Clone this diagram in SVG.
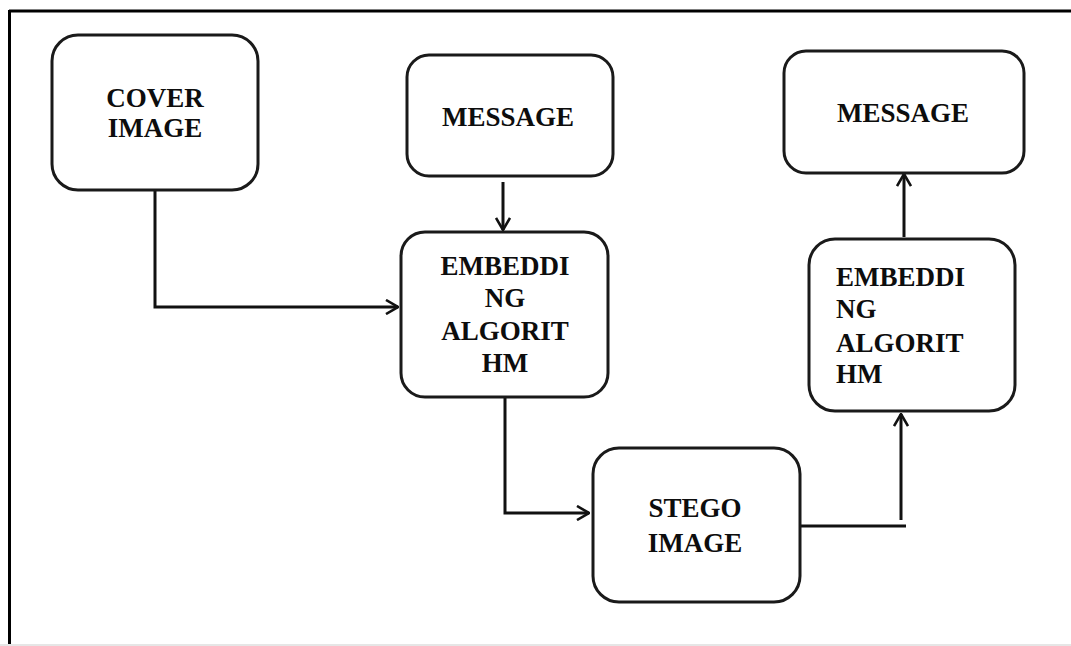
<svg xmlns="http://www.w3.org/2000/svg" width="1071" height="646" viewBox="0 0 1071 646">
  <defs>
    <style>
      .box { fill: #ffffff; stroke: #1a1a1a; stroke-width: 3; }
      .lbl { font-weight: bold; font-size: 27px; fill: #0d0d0d; }
      .mid { text-anchor: middle; }
      .wire { fill: none; stroke: #111111; stroke-width: 3; }
    </style>
    <marker id="arrow" viewBox="0 0 14 16" refX="13" refY="8" markerWidth="14" markerHeight="16" markerUnits="userSpaceOnUse" orient="auto">
      <path d="M1,1 L13,8 L1,15" fill="none" stroke="#111111" stroke-width="2.6"/>
    </marker>
  </defs>

  <rect width="1071" height="646" fill="#ffffff"/>
  <!-- page frame -->
  <line x1="9" y1="11" x2="1071" y2="11" stroke="#000" stroke-width="3"/>
  <line x1="9.5" y1="10" x2="9.5" y2="646" stroke="#000" stroke-width="3"/>
  <line x1="0" y1="645" x2="1071" y2="645" stroke="#e6e6e6" stroke-width="2"/>

  <g id="connectors">
    <polyline class="wire" points="155,190 155,307 398,307" marker-end="url(#arrow)"/>
    <line class="wire" x1="503" y1="182" x2="503" y2="230" marker-end="url(#arrow)"/>
    <polyline class="wire" points="505,397 505,513 589,513" marker-end="url(#arrow)"/>
    <line class="wire" x1="800" y1="526" x2="906" y2="526"/>
    <line class="wire" x1="901" y1="520" x2="901" y2="414" marker-end="url(#arrow)"/>
    <line class="wire" x1="904" y1="237" x2="904" y2="174" marker-end="url(#arrow)"/>
  </g>

  <g font-family="'Liberation Serif', 'Times New Roman', 'DejaVu Serif', serif">
    <g id="cover-image">
      <rect class="box" x="52" y="35" width="206" height="155" rx="26"/>
      <text class="lbl mid" x="155" y="107">COVER</text>
      <text class="lbl mid" x="155" y="137">IMAGE</text>
    </g>

    <g id="message-in">
      <rect class="box" x="407" y="55" width="206" height="121" rx="22"/>
      <text class="lbl mid" x="508" y="126">MESSAGE</text>
    </g>

    <g id="embedding-algorithm">
      <rect class="box" x="401" y="232" width="207" height="165" rx="24"/>
      <text class="lbl mid" x="505" y="275">EMBEDDI</text>
      <text class="lbl mid" x="505" y="307">NG</text>
      <text class="lbl mid" x="505" y="340">ALGORIT</text>
      <text class="lbl mid" x="505" y="372">HM</text>
    </g>

    <g id="stego-image">
      <rect class="box" x="593" y="448" width="207" height="154" rx="26"/>
      <text class="lbl mid" x="695" y="517">STEGO</text>
      <text class="lbl mid" x="695" y="552">IMAGE</text>
    </g>

    <g id="message-out">
      <rect class="box" x="784" y="51" width="240" height="122" rx="22"/>
      <text class="lbl mid" x="903" y="122">MESSAGE</text>
    </g>

    <g id="extraction-algorithm">
      <rect class="box" x="809" y="239" width="206" height="172" rx="26"/>
      <text class="lbl" x="836" y="286">EMBEDDI</text>
      <text class="lbl" x="836" y="318">NG</text>
      <text class="lbl" x="836" y="352">ALGORIT</text>
      <text class="lbl" x="836" y="383">HM</text>
    </g>
  </g>
</svg>
